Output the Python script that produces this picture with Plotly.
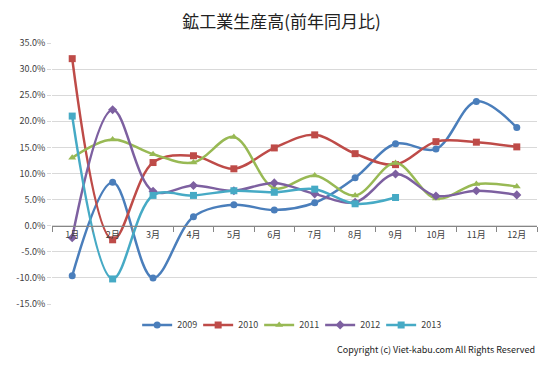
import plotly.graph_objects as go

months = ["1月", "2月", "3月", "4月", "5月", "6月", "7月", "8月", "9月", "10月", "11月", "12月"]

y2009 = [-9.6, 8.3, -10.0, 1.7, 4.0, 3.0, 4.4, 9.2, 15.7, 14.7, 23.8, 18.8]
y2010 = [32.0, -2.7, 12.1, 13.4, 10.9, 14.9, 17.4, 13.8, 11.7, 16.1, 16.0, 15.1]
y2011 = [13.0, 16.5, 13.7, 12.1, 17.0, 7.2, 9.6, 5.8, 12.0, 5.2, 8.0, 7.5]
y2012 = [-2.3, 22.2, 6.6, 7.7, 6.7, 8.2, 6.1, 4.5, 9.9, 5.7, 6.7, 5.9]
y2013 = [21.0, -10.2, 5.8, 5.8, 6.7, 6.4, 7.0, 4.2, 5.4]

series = [
    ("2009", y2009, "#4A7EBB", "circle"),
    ("2010", y2010, "#BE4B48", "square"),
    ("2011", y2011, "#98B954", "triangle-up"),
    ("2012", y2012, "#7D60A0", "diamond"),
    ("2013", y2013, "#46AAC5", "square"),
]

yticks = [35, 30, 25, 20, 15, 10, 5, 0, -5, -10, -15]

font_family = "Noto Sans CJK JP, Noto Sans, sans-serif"

fig = go.Figure()
for name, vals, color, sym in series:
    fig.add_trace(go.Scatter(
        x=months[:len(vals)], y=vals, name=name,
        mode="lines+markers",
        line=dict(color=color, width=2.5, shape="spline", smoothing=1.0),
        marker=dict(color=color, symbol=sym, size=7),
    ))

W, H = 547, 359  # page body has an 8px margin
fig.update_layout(
    width=W, height=H,
    margin=dict(l=44, r=18, t=35, b=63, autoexpand=False),
    paper_bgcolor="white", plot_bgcolor="white",
    font=dict(family=font_family, color="#404040", size=9),
    title=dict(text="鉱工業生産高(前年同月比)", x=0.5, xref="container", xanchor="center",
               y=1 - 14 / H, yref="container", yanchor="middle",
               font=dict(size=17, color="#222222", family=font_family)),
    showlegend=True,
    legend=dict(orientation="h", x=0.49, xanchor="center", y=-0.08, yanchor="middle",
                font=dict(size=9, color="#404040"), itemwidth=30, tracegroupgap=0,
                entrywidth=16, entrywidthmode="pixels"),
    xaxis=dict(
        type="category", categoryorder="array", categoryarray=months,
        range=[-0.5, 11.5],
        anchor="free", position=0.3, automargin=False,
        showline=True, linecolor="#868686", linewidth=1,
        ticks="outside", tickson="boundaries", ticklen=5, tickcolor="#868686",
        showgrid=False, zeroline=False,
        tickfont=dict(size=9, color="#404040"),
    ),
    yaxis=dict(
        range=[-15, 35], automargin=False,
        tickvals=yticks,
        ticktext=[f"{v:.1f}%" for v in yticks],
        showgrid=True, gridcolor="#D9D9D9", gridwidth=1,
        zeroline=False, showline=False,
        ticks="outside", ticklen=4, tickcolor="#D9D9D9",
        tickfont=dict(size=9, color="#404040"),
        domain=[0, 1],
    ),
    annotations=[dict(
        text="Copyright (c) Viet-kabu.com All Rights Reserved",
        xref="paper", yref="paper", x=1.0, xanchor="right",
        y=-45 / 261, yanchor="middle", showarrow=False,
        font=dict(size=9, color="#222222", family=font_family),
    )],
)

fig.write_html("out.html")
